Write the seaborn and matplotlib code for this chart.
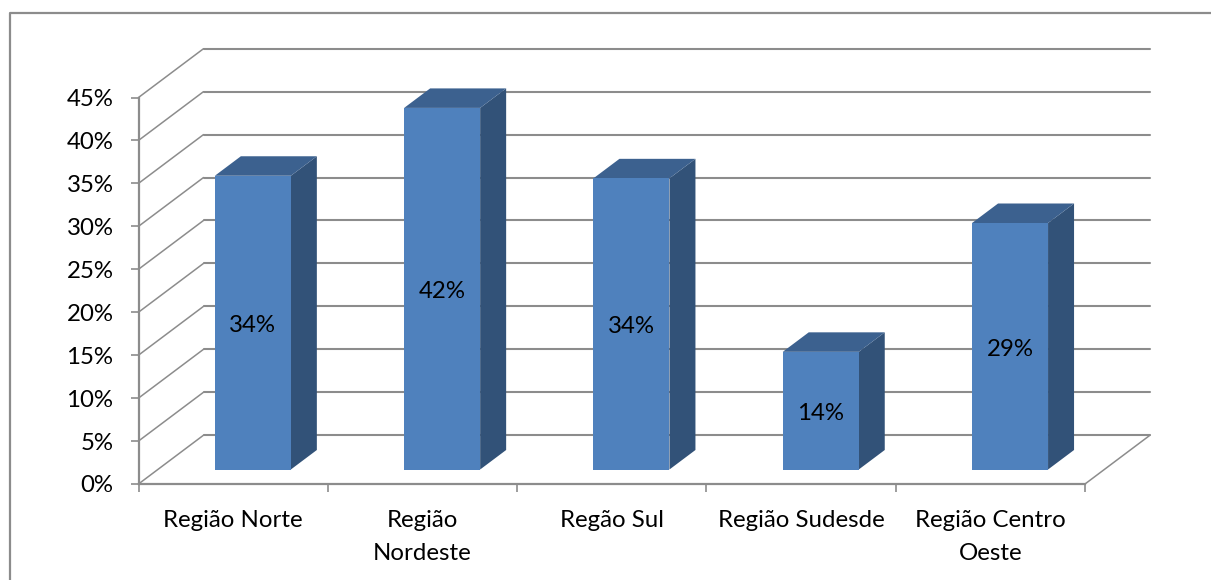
import matplotlib
matplotlib.use("Agg")
import matplotlib.pyplot as plt
import seaborn as sns
from matplotlib.patches import Polygon
from matplotlib.lines import Line2D

categories = ["Região Norte", "Região\nNordeste", "Regão Sul", "Região Sudesde", "Região Centro\nOeste"]
values = [34.2, 42.1, 33.9, 13.7, 28.7]
value_labels = ["34%", "42%", "34%", "14%", "29%"]
y_ticks = [0, 5, 10, 15, 20, 25, 30, 35, 40, 45]

W, H = 1211, 580
LEFT, RIGHT, BOTTOM, TOP = 138.5, 1085.0, 484.0, 97.5
WALL_DX, WALL_DY = 65.0, 48.8
BAR_DX, BAR_DY = 26.0, 19.5
BAR_SHIFT_PX, BAR_BASE_PX, BAR_W_PX = 19.7, 14.5, 76.0
LABEL_DROP_PX = 3.0
FS = 17.3
GRID = "#8c8c8c"
FRONT, TOPC, SIDE = "#4f81bd", "#3c618f", "#325278"

sns.set_theme(style="white")
plt.rcParams["font.family"] = ["Lato", "DejaVu Sans"]
fig = plt.figure(figsize=(W / 100, H / 100), dpi=100, facecolor="white")
ax = fig.add_axes([LEFT / W, 1 - BOTTOM / H, (RIGHT - LEFT) / W, (BOTTOM - TOP) / H])
ax.set_facecolor("none")

xpx = (RIGHT - LEFT) / len(categories)
ypx = (BOTTOM - TOP) / 45.0
base = BAR_BASE_PX / ypx

sns.barplot(x=categories, y=values, color=FRONT, saturation=1, width=BAR_W_PX / xpx,
            bottom=base, ax=ax, zorder=5, linewidth=0, errorbar=None)
ax.set_xlim(-0.5, len(categories) - 0.5)
ax.set_ylim(0, 45)

wx, wy = WALL_DX / xpx, WALL_DY / ypx
bx, by = BAR_DX / xpx, BAR_DY / ypx
xl, xr = -0.5, len(categories) - 0.5

# back wall gridlines and left-wall diagonals
for t in y_ticks:
    ax.add_line(Line2D([xl + wx, xr + wx], [t + wy, t + wy], color=GRID, lw=1.5,
                       clip_on=False, zorder=1))
    ax.add_line(Line2D([xl, xl + wx], [t, t + wy], color=GRID, lw=1.1,
                       clip_on=False, zorder=1))
ax.add_line(Line2D([xr, xr + wx], [0, wy], color=GRID, lw=1.1, clip_on=False, zorder=1))

# bar side and top faces, derived from the seaborn bars
for i, p in enumerate(ax.patches):
    p.set_x(p.get_x() + BAR_SHIFT_PX / xpx)
    x0, x1 = p.get_x(), p.get_x() + p.get_width()
    y0, y1 = p.get_y(), p.get_y() + p.get_height()
    ax.add_patch(Polygon([(x1, y0), (x1 + bx, y0 + by), (x1 + bx, y1 + by), (x1, y1)],
                         closed=True, fc=SIDE, ec="none", clip_on=False, zorder=4))
    ax.add_patch(Polygon([(x0, y1), (x1, y1), (x1 + bx, y1 + by), (x0 + bx, y1 + by)],
                         closed=True, fc=TOPC, ec="none", clip_on=False, zorder=4))
    ax.text((x0 + x1) / 2, (y0 + y1) / 2 - LABEL_DROP_PX / ypx, value_labels[i],
            ha="center", va="center", fontsize=FS, color="black", zorder=6)

for s in ("top", "right"):
    ax.spines[s].set_visible(False)
for s in ("left", "bottom"):
    ax.spines[s].set_color(GRID)
    ax.spines[s].set_linewidth(1.6)
    ax.spines[s].set_zorder(2)

ax.set_yticks(y_ticks)
ax.set_yticklabels([f"{t}%" for t in y_ticks], fontsize=FS, color="black")
ax.set_xticks([xl + k for k in range(len(categories) + 1)], minor=True)
ax.set_xticks(range(len(categories)))
ax.set_xticklabels(categories, fontsize=FS, color="black", linespacing=1.72, va="top")
ax.tick_params(axis="x", which="major", length=0, pad=18.5)
ax.tick_params(axis="x", which="minor", length=6, width=1.2, color=GRID, bottom=True)
ax.tick_params(axis="y", length=6, width=1.2, color=GRID, left=True, pad=12)

# chart frame
fig.add_artist(Line2D([9.5 / W, 9.5 / W, 1.0], [0, 1 - 12.5 / H, 1 - 12.5 / H],
                      color=GRID, lw=1.6, transform=fig.transFigure))

fig.savefig("out.png", dpi=100, facecolor="white")
